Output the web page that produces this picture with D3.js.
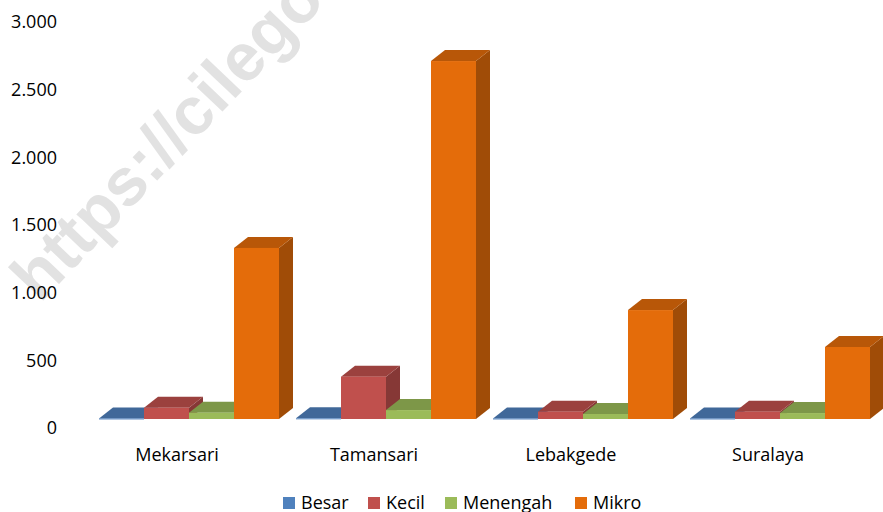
<!DOCTYPE html>
<html>
<head>
<meta charset="utf-8">
<script src="https://cdn.jsdelivr.net/npm/d3@7"></script>
<style>
  body { margin: 0; background: #fff; }
  svg text { font-family: "Open Sans", sans-serif; }
</style>
</head>
<body>
<div id="chart"></div>
<script>
// data
var categories = ["Mekarsari", "Tamansari", "Lebakgede", "Suralaya"];
var seriesNames = ["Besar", "Kecil", "Menengah", "Mikro"];
var besar = [4, 5, 4, 4];
var kecil = [83, 313, 54, 54];
var menengah = [47, 66, 37, 44];
var mikro = [1264, 2645, 805, 532];
var yTicks = [0, 500, 1000, 1500, 2000, 2500, 3000];

var colors = ["#4F81BD", "#C0504D", "#9BBB59", "#E46C0A"];
var values = [besar, kecil, menengah, mikro];

var w = 883, h = 512;
var dx = 14, dy = 11; // 3D depth offset

var svg = d3.select("#chart").append("svg")
  .attr("width", w)
  .attr("height", h);

// watermark
svg.append("text")
  .attr("transform", "translate(40,304) rotate(-46.5)")
  .style("font-family", "'Liberation Sans', Arial, sans-serif")
  .attr("font-weight", "bold")
  .attr("font-size", 67)
  .attr("fill", "#e2e2e2")
  .text("https://cilegonkota.go.id");

// scales
var yAxis = d3.scaleLinear().domain([0, 3000]).range([428, 22]);
var yBar = d3.scaleLinear().domain([0, 3000]).range([419, 13]);
var x0 = d3.scaleBand().domain(categories).range([78.5, 866.5]);
var x1 = d3.scaleBand().domain(seriesNames).range([0, 180]);

// y labels
svg.selectAll(".ylab")
  .data(yTicks)
  .enter()
  .append("text")
  .attr("class", "ylab")
  .attr("x", 57)
  .attr("y", function(d) { return yAxis(d); })
  .attr("dy", "0.35em")
  .attr("text-anchor", "end")
  .attr("font-size", 18)
  .attr("fill", "#000")
  .text(function(d) { return d3.format(",")(d).replace(/,/g, "."); });

// x labels
svg.selectAll(".xlab")
  .data(categories)
  .enter()
  .append("text")
  .attr("class", "xlab")
  .attr("x", function(d) { return x0(d) + x0.bandwidth() / 2; })
  .attr("y", 455)
  .attr("dy", "0.35em")
  .attr("text-anchor", "middle")
  .attr("font-size", 18)
  .attr("fill", "#000")
  .text(function(d) { return d; });

// bars (painter order: left to right)
var bw = x1.bandwidth();
categories.forEach(function(cat, ci) {
  seriesNames.forEach(function(s, si) {
    var v = values[si][ci];
    var xl = x0(cat) + 20.5 + x1(s);
    var xr = xl + bw;
    var yt = yBar(v);
    var yb = yBar(0);
    var c = d3.color(colors[si]);
    var g = svg.append("g");
    // side
    g.append("path")
      .attr("d", `M${xr},${yt} L${xr + dx},${yt - dy} L${xr + dx},${yb - dy} L${xr},${yb} Z`)
      .attr("fill", c.darker(1.0));
    // top
    g.append("path")
      .attr("d", `M${xl},${yt} L${xl + dx},${yt - dy} L${xr + dx},${yt - dy} L${xr},${yt} Z`)
      .attr("fill", c.darker(0.6));
    // front
    g.append("rect")
      .attr("x", xl)
      .attr("y", yt)
      .attr("width", bw)
      .attr("height", Math.max(1, yb - yt))
      .attr("fill", colors[si]);
  });
});

// legend
var legX = [283, 368, 445, 575];
var leg = svg.selectAll(".leg")
  .data(seriesNames)
  .enter()
  .append("g")
  .attr("class", "leg")
  .attr("transform", function(d, i) { return "translate(" + legX[i] + ",497)"; });
leg.append("rect")
  .attr("width", 12)
  .attr("height", 12)
  .attr("fill", function(d, i) { return colors[i]; });
leg.append("text")
  .attr("x", 18)
  .attr("y", 6)
  .attr("dy", "0.35em")
  .attr("font-size", 18)
  .attr("fill", "#000")
  .text(function(d) { return d; });
</script>
</body>
</html>
